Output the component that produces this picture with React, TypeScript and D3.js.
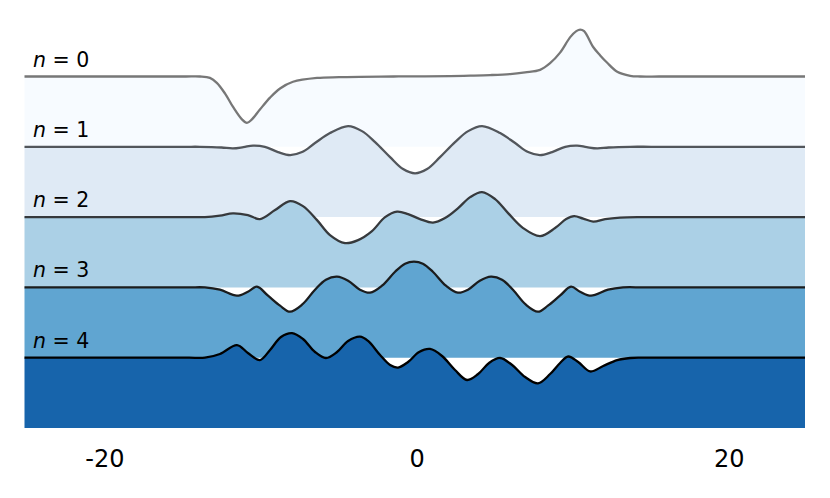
import React from 'react';
import * as d3 from 'd3';

type Pt = [number, number];

// ridge labels, top to bottom
const levels = ['0', '1', '2', '3', '4'];

// curves: [x, displacement]
const wave0: Pt[] = [
  [-25.15, 0], [-22, 0], [-19, 0], [-16.5, 0], [-14.8, 0], [-13.91, 0], [-13.27, -0.02],
  [-12.83, -0.09], [-12.31, -0.24], [-11.8, -0.43], [-11.22, -0.61], [-10.9, -0.66], [-10.58, -0.61],
  [-10.07, -0.47], [-9.42, -0.3], [-8.78, -0.17], [-7.95, -0.075], [-6.41, -0.02], [-5, -0.01],
  [-3.66, -0.005], [-1.5, 0], [0.5, 0.003], [2.11, 0.006], [3.4, 0.012], [4.68, 0.02], [5.96, 0.035],
  [6.92, 0.06], [7.88, 0.095], [8.52, 0.19], [9.16, 0.34], [9.81, 0.56], [10.2, 0.645], [10.45, 0.668],
  [10.7, 0.645], [11.28, 0.42], [11.73, 0.3], [12.18, 0.195], [12.82, 0.067], [13.65, 0.01],
  [14.29, 0], [15.5, 0], [17.5, 0], [20, 0], [22.5, 0], [24.85, 0],
];
const wave1: Pt[] = [
  [-25.15, 0], [-22, 0], [-19, 0], [-16.5, 0], [-14.8, 0], [-13.91, 0], [-12.53, -0.01], [-11.8, -0.023],
  [-11.13, -0.005], [-10.51, 0.017], [-9.75, 0], [-8.91, -0.075], [-8.13, -0.118], [-7.37, -0.075],
  [-6.54, 0.053], [-5.58, 0.195], [-4.42, 0.294], [-3.53, 0.223], [-2.69, 0.067], [-1.73, -0.147],
  [-0.9, -0.317], [-0.13, -0.378], [0.64, -0.317], [1.47, -0.147], [2.43, 0.067], [3.27, 0.223],
  [4.16, 0.294], [5.32, 0.195], [6.28, 0.053], [7.11, -0.075], [7.87, -0.118], [8.65, -0.075],
  [9.49, 0], [10.25, 0.017], [10.87, -0.005], [11.54, -0.023], [12.27, -0.01], [13.65, 0], [15, 0],
  [17.5, 0], [20, 0], [22.5, 0], [24.85, 0],
];
const wave2: Pt[] = [
  [-25.15, 0], [-22, 0], [-19, 0], [-16.5, 0], [-14.6, 0], [-13.59, 0], [-12.63, 0.021], [-11.8, 0.053],
  [-10.84, 0.028], [-10.07, -0.028], [-9.1, 0.1], [-8.14, 0.228], [-7.31, 0.156], [-6.41, -0.043],
  [-5.58, -0.256], [-4.62, -0.37], [-3.78, -0.327], [-2.89, -0.199], [-2.05, 0], [-1.28, 0.078],
  [-0.58, 0.043], [0.19, -0.028], [1.02, -0.078], [1.79, -0.014], [2.63, 0.128], [3.4, 0.284],
  [4.16, 0.356], [5.0, 0.256], [5.83, 0.057], [6.79, -0.156], [7.88, -0.27], [8.84, -0.156],
  [9.55, -0.028], [10.06, 0.014], [10.64, -0.021], [11.28, -0.064], [12.05, -0.028], [13.01, -0.007],
  [14.27, 0], [15.5, 0], [17.5, 0], [20, 0], [22.5, 0], [24.85, 0],
];
const wave3: Pt[] = [
  [-25.15, 0], [-22, 0], [-19, 0], [-16.5, 0], [-14.6, 0], [-13.59, 0], [-12.63, -0.033], [-11.54, -0.118],
  [-10.84, -0.061], [-10.26, 0.01], [-9.55, -0.118], [-8.78, -0.26], [-8.14, -0.346], [-7.37, -0.246],
  [-6.54, -0.033], [-5.84, 0.11], [-5.13, 0.152], [-4.42, 0.095], [-3.66, -0.033], [-3.01, -0.075],
  [-2.25, 0.024], [-1.41, 0.223], [-0.77, 0.337], [-0.2, 0.366], [0.37, 0.337], [1.01, 0.223],
  [1.85, 0.024], [2.61, -0.075], [3.26, -0.033], [4.02, 0.095], [4.73, 0.152], [5.44, 0.11],
  [6.14, -0.033], [6.97, -0.246], [7.74, -0.346], [8.38, -0.26], [9.15, -0.118], [9.86, 0.01],
  [10.44, -0.061], [11.14, -0.118], [12.23, -0.033], [13.19, 0], [14.5, 0], [17, 0], [20, 0],
  [22.5, 0], [24.85, 0],
];
const wave4: Pt[] = [
  [-25.15, 0], [-22, 0], [-19, 0], [-16.5, 0], [-14.6, 0], [-13.59, 0], [-12.63, 0.053], [-11.54, 0.18],
  [-10.84, 0.067], [-10.07, -0.033], [-9.42, 0.11], [-8.72, 0.294], [-8.01, 0.35], [-7.31, 0.266],
  [-6.54, 0.081], [-5.84, -0.004], [-5.13, 0.081], [-4.42, 0.238], [-3.66, 0.3], [-3.14, 0.238],
  [-2.37, 0.038], [-1.73, -0.104], [-1.22, -0.14], [-0.58, -0.061], [0.13, 0.081], [0.83, 0.124],
  [1.6, 0.024], [2.43, -0.175], [3.2, -0.317], [3.91, -0.232], [4.61, -0.075], [5.32, -0.004],
  [6.09, -0.104], [6.92, -0.275], [7.75, -0.364], [8.52, -0.232], [9.16, -0.075], [9.68, 0.017],
  [10.32, -0.061], [11.09, -0.196], [11.92, -0.118], [12.82, -0.033], [13.65, -0.004], [14.37, 0],
  [15.5, 0], [17.5, 0], [20, 0], [22.5, 0], [24.85, 0],
];
const waves = [wave0, wave1, wave2, wave3, wave4];

const fillColors = ['#f7fbff', '#dfeaf5', '#abd0e6', '#60a5d1', '#1764ab'];
const lineColors = ['#777777', '#52565b', '#36393c', '#1b1c1d', '#000000'];
const xTicks = [-20, 0, 20];

export default function App() {
  const width = 830;
  const height = 498;

  const x = d3.scaleLinear().domain([-25.15, 24.85]).range([24.5, 805]);
  // one unit per ridge, n=4 sits on level 0
  const y = d3.scaleLinear().domain([-1, 5]).range([428, 6.2]);
  const curve = d3.curveCatmullRom.alpha(0.5);

  return (
    <svg
      width={width}
      height={height}
      style={{ position: 'absolute', left: 0, top: 0 }}
      fontFamily="DejaVu Sans, sans-serif"
    >
      <rect width={width} height={height} fill="#fff" />
      {waves.map((w, i) => {
        const base = levels.length - 1 - i;
        const area = d3
          .area<Pt>()
          .x((d) => x(d[0]))
          .y0(y(base - 1))
          .y1((d) => y(base + d[1]))
          .curve(curve);
        const line = d3
          .line<Pt>()
          .x((d) => x(d[0]))
          .y((d) => y(base + d[1]))
          .curve(curve);
        return (
          <g key={i}>
            <path d={area(w) ?? ''} fill={fillColors[i]} />
            <path d={line(w) ?? ''} fill="none" stroke={lineColors[i]} strokeWidth={2.3} />
            <text x={33} y={y(base) - 10} fontSize={20.5} fill="#000">
              <tspan fontStyle="italic">n</tspan>
              <tspan> = {levels[i]}</tspan>
            </text>
          </g>
        );
      })}
      {xTicks.map((t) => (
        <text key={t} x={x(t)} y={467} fontSize={24} textAnchor="middle" fill="#000">
          {t}
        </text>
      ))}
    </svg>
  );
}
